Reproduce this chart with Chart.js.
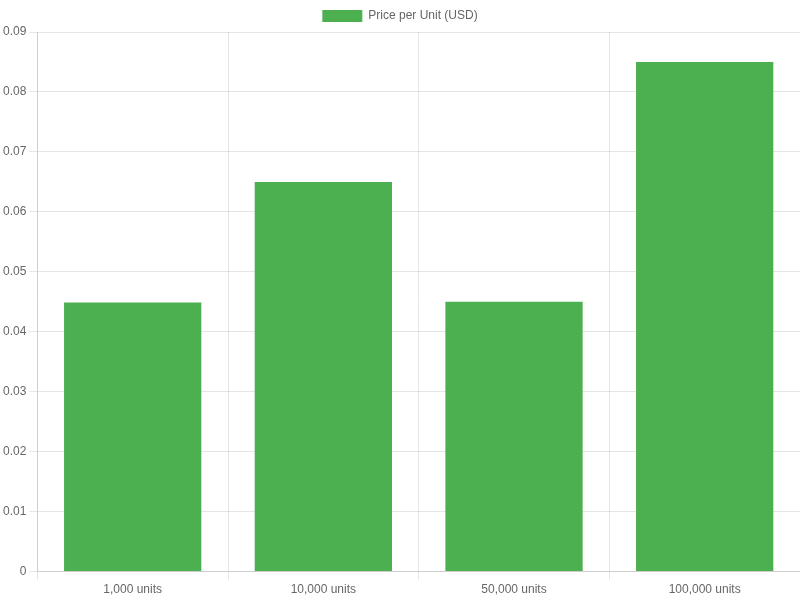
<!DOCTYPE html>
<html>
<head>
<meta charset="utf-8">
<script src="https://cdn.jsdelivr.net/npm/chart.js@4"></script>
<style>
  html, body { margin: 0; padding: 0; background: #fff; }
  #wrap { width: 800px; height: 600px; }
</style>
</head>
<body>
<div id="wrap"><canvas id="priceChart"></canvas></div>
<script>
const categories = ['1,000 units', '10,000 units', '50,000 units', '100,000 units'];
const prices = [0.0449, 0.065, 0.045, 0.085];

document.addEventListener('DOMContentLoaded', function () {
    const ctx = document.getElementById('priceChart').getContext('2d');

    new Chart(ctx, {
        type: 'bar',
        data: {
            labels: categories,
            datasets: [{
                label: 'Price per Unit (USD)',
                data: prices,
                backgroundColor: '#4CAF50',
                borderColor: '#4CAF50',
                borderWidth: 0
            }]
        },
        options: {
            responsive: true,
            maintainAspectRatio: false,
            animation: false,
            scales: {
                y: {
                    beginAtZero: true,
                    max: 0.09,
                    ticks: { stepSize: 0.01 }
                }
            }
        }
    });
});
</script>
</body>
</html>
